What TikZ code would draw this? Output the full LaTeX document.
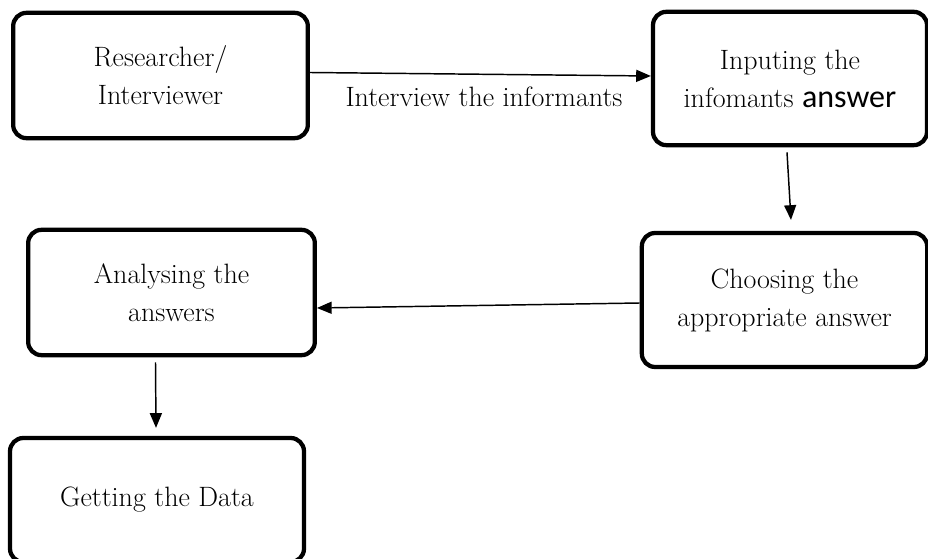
\documentclass[tikz,border=0pt]{standalone}
\usepackage{fontspec}
\newfontfamily\calibrifont{Carlito}
\usetikzlibrary{calc,arrows.meta}

\begin{document}
\begin{tikzpicture}[x=0.75pt,y=-0.75pt,
  stagebox/.style={draw,line width=3.2pt,rounded corners=10pt,align=center,
    font=\fontsize{21}{28.5}\selectfont},
  flowarrow/.style={line width=1.1pt,-{Triangle[length=11pt,width=9pt]}}]
  \useasboundingbox (0,0) rectangle (928,559);
  % the five stages
  \node[stagebox,minimum width=221pt,minimum height=94pt] (researcher) at (160.5,75.5) {Researcher/\\Interviewer};
  \node[stagebox,minimum width=205.5pt,minimum height=100pt] (inputing) at (790,78.5) {Inputing the\\infomants {\calibrifont\fontsize{24}{28.5}\selectfont answer}};
  \node[stagebox,minimum width=214pt,minimum height=100.5pt] (choosing) at (784.5,300) {Choosing the\\appropriate answer};
  \node[stagebox,minimum width=215pt,minimum height=94pt] (analysing) at (171.5,292.5) {Analysing the\\answers};
  \node[stagebox,minimum width=220.5pt,minimum height=93pt] (getting) at (157,500) {Getting the Data};
  % arrows between them
  \draw[flowarrow] ($(researcher.east)+(0,-3)$) -- ($(inputing.west)+(0,-2.5)$);
  \node[font=\fontsize{21}{28.5}\selectfont] (interview) at (484,97) {Interview the informants};
  \draw[flowarrow] ($(inputing.south)+(-3,5)$) -- ($(choosing.north)+(6.5,-11)$);
  \draw[flowarrow] ($(choosing.west)+(0,3)$) -- ($(analysing.east)+(0,15.5)$);
  \draw[flowarrow] ($(analysing.south)+(-16,5)$) -- ($(getting.north)+(-1,-8)$);
\end{tikzpicture}
\end{document}
